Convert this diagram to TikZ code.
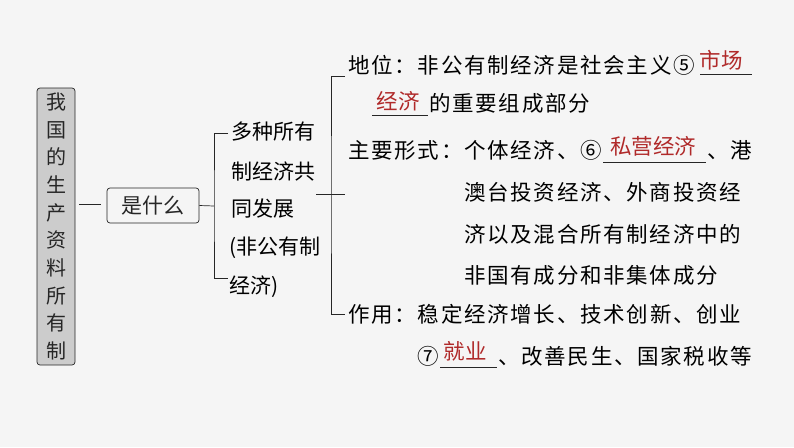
\documentclass[tikz,border=0pt]{standalone}
\usepackage{fontspec}
\setmainfont{Noto Sans CJK SC}
\begin{document}
\begin{tikzpicture}[x=1pt,y=-1pt,
  t/.style={anchor=west,inner sep=0pt,font=\fontsize{21.5}{21.5}\selectfont\addfontfeature{LetterSpace=8}},
  tm/.style={anchor=west,inner sep=0pt,font=\fontsize{21}{21}\selectfont},
  ans/.style={anchor=south,inner sep=0pt,text=ansred,font=\fontsize{21.5}{21.5}\selectfont},
  ln/.style={line width=0.7pt,black!85}]
\definecolor{ansred}{HTML}{B02A2A}
\fill[white!96!black] (0,0) rectangle (794,447);
\useasboundingbox (0,0) rectangle (794,447);
\node[draw,ln,fill=black!20,rounded corners=3pt,minimum width=38pt,minimum height=277pt,inner sep=0pt,align=center,font=\fontsize{20}{27.7}\selectfont] (root) at (56,226.5) {我\\国\\的\\生\\产\\资\\料\\所\\有\\制};
\node[draw,ln,rounded corners=3pt,minimum width=92pt,minimum height=35pt,inner sep=0pt,font=\fontsize{21}{21}\selectfont] (what) at (153,205.5) {是什么};
\draw[ln] (79,204) -- (101,204);
\draw[ln] (what.east) -- (214,206);
\coordinate (b1) at (214,206);
\draw[ln] (228,133) -| (b1) |- (228,278);
\node[tm] (m1) at (231,132) {多种所有};
\node[tm] (m2) at (231,171) {制经济共};
\node[tm] (m3) at (231,209) {同发展};
\node[tm] (m4) at (229,248) {(非公有制};
\node[tm] (m5) at (229,287) {经济)};
\coordinate (b2) at (331,194);
\draw[ln] (316,194) -- (345,194);
\draw[ln] (345,76) -| (b2) |- (345,314);
\node[t] (a1) at (348,65) {地位：非公有制经济是社会主义⑤};
\draw[ln] (700,74) -- (752,74);
\node[ans] (s1) at (721,70) {市场};
\draw[ln] (372,115) -- (428,115);
\node[ans] (s2) at (398,111) {经济};
\node[t] (a2) at (429,103) {的重要组成部分};
\node[t] (b1t) at (348,150) {主要形式：个体经济、⑥};
\draw[ln] (603,162) -- (706,162);
\node[ans] (s3) at (653,156) {私营经济};
\node[t] (b2t) at (707,150) {、港};
\node[t] (b3t) at (464,192) {澳台投资经济、外商投资经};
\node[t] (b4t) at (464,234) {济以及混合所有制经济中的};
\node[t] (b5t) at (464,275) {非国有成分和非集体成分};
\node[t] (c1) at (348,314) {作用：稳定经济增长、技术创新、创业};
\node[t] (c2) at (417,356) {⑦};
\draw[ln] (440,367) -- (497,367);
\node[ans] (s4) at (465,361) {就业};
\node[t] (c3) at (498,356) {、改善民生、国家税收等};
\end{tikzpicture}
\end{document}
